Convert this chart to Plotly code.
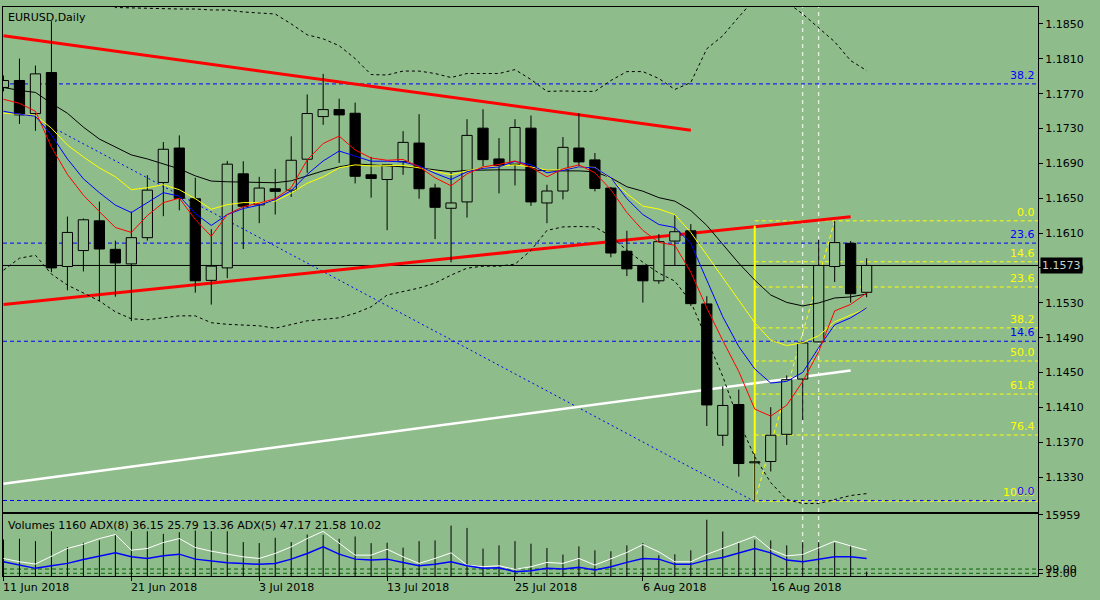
import plotly.graph_objects as go

# EURUSD daily bars, 11 Jun 2018 .. 24 Aug 2018 (bar index 0..54)
opens = [1.17771, 1.17851, 1.17472, 1.17942, 1.15717, 1.15900, 1.16241, 1.15914, 1.15747, 1.16048,
         1.16681, 1.17076, 1.16495, 1.15558, 1.15701, 1.16780, 1.16424, 1.16609, 1.16593, 1.16948,
         1.17437, 1.17517, 1.17475, 1.16769, 1.16715, 1.16920, 1.17133, 1.16617, 1.16385, 1.16458,
         1.17304, 1.16951, 1.16891, 1.17304, 1.16446, 1.16583, 1.17076, 1.16940, 1.16617, 1.15892,
         1.15729, 1.15553, 1.16009, 1.16127, 1.15288, 1.13781, 1.14134, 1.13465, 1.13480, 1.13792,
         1.14426, 1.14852, 1.15717, 1.15983, 1.15421]
highs = [1.17908, 1.18102, 1.18022, 1.18531, 1.16290, 1.16268, 1.16461, 1.16014, 1.16347, 1.16765,
         1.17145, 1.17221, 1.16735, 1.16146, 1.16928, 1.16925, 1.16746, 1.16837, 1.17210, 1.17691,
         1.17927, 1.17642, 1.17597, 1.16974, 1.16883, 1.17270, 1.17464, 1.16666, 1.16800, 1.17407,
         1.17521, 1.17190, 1.17407, 1.17449, 1.16655, 1.17202, 1.17475, 1.17019, 1.16630, 1.16127,
         1.15736, 1.16089, 1.16305, 1.16203, 1.15376, 1.14342, 1.14305, 1.13571, 1.14103, 1.14468,
         1.14840, 1.16025, 1.16241, 1.16009, 1.15812]
lows = [1.17726, 1.17353, 1.17273, 1.15652, 1.15444, 1.15660, 1.15319, 1.15371, 1.15091, 1.16014,
        1.16294, 1.16362, 1.15417, 1.15280, 1.15584, 1.15918, 1.16214, 1.16313, 1.16515, 1.16792,
        1.17342, 1.16905, 1.16670, 1.16507, 1.16134, 1.16769, 1.16495, 1.16032, 1.15766, 1.16279,
        1.16868, 1.16556, 1.16647, 1.16412, 1.16214, 1.16487, 1.16868, 1.16579, 1.15823, 1.15607,
        1.15303, 1.15519, 1.15732, 1.15265, 1.13887, 1.13659, 1.13306, 1.13025, 1.13366, 1.13670,
        1.13955, 1.14845, 1.15539, 1.15303, 1.15364]
closes = [1.17851, 1.17456, 1.17927, 1.15701, 1.16108, 1.16253, 1.15918, 1.15758, 1.16048, 1.16593,
          1.17062, 1.16499, 1.15553, 1.15721, 1.16891, 1.16408, 1.16617, 1.16579, 1.16936, 1.17472,
          1.17517, 1.17456, 1.16752, 1.16727, 1.16883, 1.17141, 1.16609, 1.16396, 1.16446, 1.17221,
          1.16943, 1.16875, 1.17312, 1.16458, 1.16583, 1.17084, 1.16917, 1.16613, 1.15872, 1.15690,
          1.15553, 1.16002, 1.16116, 1.15291, 1.14129, 1.14123, 1.13457, 1.13477, 1.13781, 1.14419,
          1.14840, 1.15729, 1.15991, 1.15405, 1.15729]

# moving averages
ma_red = [1.17635, 1.17589, 1.17498, 1.17088, 1.16774, 1.16535, 1.16347, 1.16165, 1.16108, 1.16302,
          1.16450, 1.16501, 1.16256, 1.16063, 1.16313, 1.16404, 1.16444, 1.16495, 1.16621, 1.16940,
          1.17128, 1.17213, 1.17054, 1.16962, 1.16936, 1.16945, 1.16860, 1.16735, 1.16643, 1.16780,
          1.16860, 1.16888, 1.16928, 1.16854, 1.16746, 1.16837, 1.16883, 1.16792, 1.16598, 1.16336,
          1.16131, 1.15994, 1.15960, 1.15652, 1.15242, 1.14867, 1.14513, 1.14081, 1.14001, 1.14126,
          1.14399, 1.14741, 1.15208, 1.15282, 1.15413]
ma_blue = [1.17498, 1.17464, 1.17441, 1.17224, 1.16951, 1.16723, 1.16564, 1.16421, 1.16336, 1.16450,
           1.16564, 1.16524, 1.16325, 1.16188, 1.16313, 1.16382, 1.16421, 1.16484, 1.16587, 1.16774,
           1.16928, 1.17042, 1.16985, 1.16925, 1.16925, 1.16917, 1.16871, 1.16786, 1.16715, 1.16803,
           1.16843, 1.16860, 1.16923, 1.16883, 1.16792, 1.16820, 1.16860, 1.16849, 1.16735, 1.16495,
           1.16313, 1.16199, 1.16165, 1.15983, 1.15561, 1.15140, 1.14798, 1.14542, 1.14380, 1.14399,
           1.14502, 1.14787, 1.15049, 1.15128, 1.15242]
ma_yellow = [1.17475, 1.17464, 1.17452, 1.17304, 1.17111, 1.16974, 1.16849, 1.16746, 1.16598, 1.16621,
             1.16655, 1.16598, 1.16495, 1.16374, 1.16427, 1.16450, 1.16450, 1.16467, 1.16558, 1.16672,
             1.16746, 1.16849, 1.16883, 1.16871, 1.16877, 1.16877, 1.16849, 1.16809, 1.16769, 1.16814,
             1.16849, 1.16866, 1.16883, 1.16860, 1.16822, 1.16826, 1.16860, 1.16854, 1.16723, 1.16552,
             1.16410, 1.16376, 1.16313, 1.16108, 1.15846, 1.15584, 1.15334, 1.15072, 1.14872, 1.14810,
             1.14844, 1.14923, 1.15083, 1.15163, 1.15237]
ma_black = [1.17771, 1.17737, 1.17714, 1.17589, 1.17475, 1.17316, 1.17179, 1.17088, 1.16997, 1.16951,
            1.16894, 1.16837, 1.16757, 1.16697, 1.16689, 1.16683, 1.16678, 1.16678, 1.16700, 1.16757,
            1.16814, 1.16860, 1.16894, 1.16883, 1.16871, 1.16860, 1.16849, 1.16826, 1.16803, 1.16820,
            1.16826, 1.16826, 1.16826, 1.16820, 1.16814, 1.16814, 1.16814, 1.16803, 1.16735, 1.16632,
            1.16581, 1.16507, 1.16467, 1.16359, 1.16188, 1.15971, 1.15755, 1.15561, 1.15390, 1.15305,
            1.15265, 1.15299, 1.15356, 1.15368, 1.15402]

# bands (dashed)
band_up = [1.1882, 1.1886, 1.1890, 1.1912, 1.1908, 1.1900, 1.1885, 1.18688, 1.18682, 1.18682,
           1.18677, 1.18671, 1.18671, 1.18660, 1.18660, 1.18637, 1.18625, 1.18614, 1.18500, 1.18375,
           1.18329, 1.18250, 1.18102, 1.17919, 1.17914, 1.17959, 1.17959, 1.17931, 1.17885, 1.17931,
           1.17931, 1.17931, 1.17976, 1.17862, 1.17726, 1.17731, 1.17726, 1.17726, 1.17851, 1.17953,
           1.17953, 1.17874, 1.17748, 1.17828, 1.18215, 1.18364, 1.18580, 1.18785, 1.18842, 1.18751,
           1.18614, 1.18455, 1.18295, 1.18079, 1.17965]
band_dn = [1.15675, 1.15812, 1.15846, 1.15630, 1.15504, 1.15413, 1.15322, 1.15197, 1.15117, 1.15106,
           1.15128, 1.15151, 1.15151, 1.15072, 1.15054, 1.15049, 1.15037, 1.15009, 1.15049, 1.15094,
           1.15111, 1.15128, 1.15180, 1.15254, 1.15390, 1.15430, 1.15470, 1.15527, 1.15618, 1.15698,
           1.15721, 1.15721, 1.15744, 1.15903, 1.16131, 1.16171, 1.16176, 1.16171, 1.16063, 1.15903,
           1.15766, 1.15641, 1.15550, 1.15311, 1.14889, 1.14456, 1.13944, 1.13534, 1.13238, 1.13044,
           1.12998, 1.12998, 1.13044, 1.13090, 1.13112]

volumes = [9500, 9700, 9090, 11660, 7540, 8670, 9270, 10730, 11660, 11660,
           10990, 11400, 11840, 11660, 11660, 8830, 8570, 9960, 8830, 10810,
           10730, 9700, 10300, 8570, 8670, 7390, 9090, 9270, 13130, 12530,
           7130, 7980, 9090, 8420, 7280, 5590, 7720, 6690, 6440, 7980,
           8570, 5410, 5660, 6690, 14670, 11580, 8570, 9450, 9270, 7980,
           8830, 8830, 8670, 7980, 1160]
adx_white = [28.5, 23.1, 19.4, 32.3, 44.7, 51.6, 60.8, 67.3, 41.9, 44.7,
             54.4, 60.8, 46.3, 40.3, 35.5, 31.1, 28.5, 36.6, 47.3, 60.8,
             72.6, 52.7, 33.9, 33.9, 43.5, 31.1, 20.5, 28.5, 37.6, 17.7,
             15.0, 16.6, 10.8, 15.0, 22.1, 20.5, 28.5, 17.7, 28.5, 38.2,
             51.1, 39.2, 23.1, 23.1, 35.0, 44.7, 53.7, 64.5, 43.1, 32.7,
             35.0, 46.3, 56.5, 48.9, 41.9]
adx_blue = [23.1, 17.7, 12.4, 16.6, 20.5, 26.9, 32.3, 37.6, 31.1, 28.5,
            32.7, 35.5, 27.4, 24.2, 21.5, 20.5, 18.9, 20.5, 27.4, 36.6,
            47.3, 35.5, 27.4, 25.8, 27.4, 22.1, 16.6, 18.9, 23.1, 16.6,
            12.4, 13.4, 6.9, 8.5, 12.4, 11.3, 14.0, 9.7, 15.0, 22.1,
            28.5, 27.4, 18.9, 18.9, 25.8, 30.2, 37.6, 44.7, 37.6, 25.8,
            23.1, 27.4, 31.1, 31.1, 28.5]
adx_levels = [11.3, 4.4]
adx_level_text = ["99.00", "15.00"]

date_ticks = [0, 8, 16, 24, 32, 40, 48]
date_labels = ["11 Jun 2018", "21 Jun 2018", "3 Jul 2018", "13 Jul 2018",
               "25 Jul 2018", "6 Aug 2018", "16 Aug 2018"]
price_ticks = [1.1330, 1.1370, 1.1410, 1.1450, 1.1490, 1.1530, 1.1570,
               1.1610, 1.1650, 1.1690, 1.1730, 1.1770, 1.1810, 1.1850]

# drawn objects: (x0, y0, x1, y1)
red_upper = (0, 1.18364, 43, 1.17281)
red_lower = (0, 1.15280, 53, 1.16287)
white_line = (0, 1.13226, 53, 1.14525)
blue_diag = (3, 1.17320, 47, 1.13020)
fib_diag = (47, 1.13025, 52, 1.16241)
yellow_vert = (47, 1.13025, 47, 1.16185)
white_vlines = [50, 51]

# fibonacci
fib_levels = [0.0, 14.6, 23.6, 38.2, 50.0, 61.8, 76.4, 100.0]
fib_hi, fib_lo = 1.16241, 1.13025
bfib_levels = [0.0, 14.6, 23.6, 38.2]
bfib_lo, bfib_hi = 1.13033, 1.25543

BG = "#8fbc8b"
FONT = "DejaVu Sans"
X0, X1 = -0.03, 64.72

n = len(opens)
idx = list(range(n))

fig = go.Figure()

# wicks (split so they don't cross the hollow bodies)
wx, wy = [], []
for i in idx:
    top = max(opens[i], closes[i])
    bot = min(opens[i], closes[i])
    wx += [i, i, None, i, i, None]
    wy += [highs[i], top, None, bot, lows[i], None]
fig.add_trace(go.Scatter(x=wx, y=wy, mode="lines", line=dict(color="black", width=1),
                         hoverinfo="skip", showlegend=False))

# bodies
fig.add_trace(go.Bar(
    x=idx,
    y=[abs(closes[i] - opens[i]) for i in idx],
    base=[min(opens[i], closes[i]) for i in idx],
    width=0.64,
    marker=dict(color=[BG if closes[i] >= opens[i] else "black" for i in idx],
                line=dict(color="black", width=1)),
    hoverinfo="skip", showlegend=False))

# indicators
for vals, col in [(ma_black, "black"), (ma_yellow, "#ffff00"), (ma_blue, "#0000ff"), (ma_red, "#ff0000")]:
    fig.add_trace(go.Scatter(x=idx, y=vals, mode="lines", line=dict(color=col, width=1),
                             hoverinfo="skip", showlegend=False))
for vals in [band_up, band_dn]:
    fig.add_trace(go.Scatter(x=idx, y=vals, mode="lines",
                             line=dict(color="black", width=1, dash="3px,3px"),
                             hoverinfo="skip", showlegend=False))

# volume panel
vx, vy = [], []
for i in idx:
    vx += [i, i, None]
    vy += [0, volumes[i], None]
fig.add_trace(go.Scatter(x=vx, y=vy, mode="lines", line=dict(color="black", width=1),
                         xaxis="x2", yaxis="y2", hoverinfo="skip", showlegend=False))
fig.add_trace(go.Scatter(x=idx, y=adx_white, mode="lines", line=dict(color="white", width=1),
                         xaxis="x2", yaxis="y3", hoverinfo="skip", showlegend=False))
fig.add_trace(go.Scatter(x=idx, y=adx_blue, mode="lines", line=dict(color="#0000ff", width=1.5),
                         xaxis="x2", yaxis="y3", hoverinfo="skip", showlegend=False))

shapes = []
DASH = "4px,3px"


def seg(p, color, width, dash="solid"):
    return dict(type="line", xref="x", yref="y", x0=p[0], y0=p[1], x1=p[2], y1=p[3],
                line=dict(color=color, width=width, dash=dash), layer="below")


# blue fibo levels (full width)
for lv in bfib_levels:
    py = bfib_lo + (bfib_hi - bfib_lo) * lv / 100
    shapes.append(seg((X0, py, X1, py), "#0000ff", 1, DASH))
# yellow fibo levels
for lv in fib_levels:
    py = fib_hi - (fib_hi - fib_lo) * lv / 100
    shapes.append(seg((fib_diag[0], py, X1, py), "#ffff00", 1, DASH))
# bid line
shapes.append(seg((X0, closes[-1], X1, closes[-1]), "black", 1))
shapes.append(seg(blue_diag, "#0000ff", 1, "2px,3px"))
shapes.append(seg(red_upper, "#ff0000", 3))
shapes.append(seg(red_lower, "#ff0000", 3))
shapes.append(seg(white_line, "white", 2.5))
shapes.append(seg(yellow_vert, "#ffff00", 2))
shapes.append(seg(fib_diag, "#ffff00", 1, DASH))
for xv in white_vlines:
    shapes.append(dict(type="line", xref="x", yref="paper", x0=xv, x1=xv, y0=0, y1=1,
                       line=dict(color="white", width=1, dash="4px,4px"), layer="below"))
for lv in adx_levels:
    shapes.append(dict(type="line", xref="x2", yref="y3", x0=X0, x1=X1, y0=lv, y1=lv,
                       line=dict(color="#006400", width=1, dash="4px,3px"), layer="below"))

ann = []
ann.append(dict(text="EURUSD,Daily", xref="paper", yref="paper", x=0, y=1, xanchor="left",
                yanchor="top", xshift=3, yshift=-2, showarrow=False,
                font=dict(family=FONT, size=11, color="black")))
ann.append(dict(text="Volumes %d ADX(8) 36.15 25.79 13.36 ADX(5) 47.17 21.58 10.02" % volumes[-1],
                xref="paper", yref="paper", x=0, y=0.089, xanchor="left", yanchor="middle",
                xshift=3, showarrow=False, font=dict(family=FONT, size=11, color="black")))
for lv in fib_levels:
    py = fib_hi - (fib_hi - fib_lo) * lv / 100
    ann.append(dict(text="%.1f" % lv, xref="paper", yref="y", x=1, y=py, xanchor="right",
                    yanchor="bottom", xshift=-1, showarrow=False,
                    font=dict(family=FONT, size=11, color="#ffff00")))
for lv in bfib_levels:
    py = bfib_lo + (bfib_hi - bfib_lo) * lv / 100
    ann.append(dict(text="%.1f" % lv, xref="paper", yref="y", x=1, y=py, xanchor="right",
                    yanchor="bottom", xshift=-1, showarrow=False,
                    font=dict(family=FONT, size=11, color="#0000ff")))
ann.append(dict(text="%.4f" % closes[-1], xref="paper", yref="y", x=1, y=closes[-1],
                xanchor="left", yanchor="middle", xshift=2, showarrow=False,
                bgcolor="black", borderpad=1,
                font=dict(family=FONT, size=11, color="#c8d4c8")))
for t, lab in zip(date_ticks, date_labels):
    ann.append(dict(text=lab, xref="x2", yref="paper", x=t, y=-0.0209, xanchor="left",
                    yanchor="middle", xshift=-2, showarrow=False,
                    font=dict(family=FONT, size=11, color="black")))

axis_common = dict(showgrid=False, zeroline=False, showline=True, mirror=True,
                   linecolor="black", linewidth=1)

fig.update_layout(
    width=1100, height=600,
    margin=dict(l=2, r=62, t=3, b=24, pad=0),
    paper_bgcolor=BG, plot_bgcolor=BG,
    barmode="overlay",
    showlegend=False,
    font=dict(family=FONT, size=11, color="black"),
    xaxis=dict(domain=[0, 1], range=[X0, X1], anchor="y", showticklabels=False,
               ticks="", **axis_common),
    yaxis=dict(domain=[0.1122, 1], range=[1.12899, 1.18694], side="right", anchor="x",
               tickvals=price_ticks, tickformat=".4f", ticks="outside", ticklen=4,
               tickcolor="black", tickfont=dict(family=FONT, size=11, color="black"),
               **axis_common),
    xaxis2=dict(domain=[0, 1], range=[X0, X1], anchor="y2", matches="x",
                tickvals=date_ticks, showticklabels=False, ticks="outside", ticklen=4,
                tickcolor="black", **axis_common),
    yaxis2=dict(domain=[0, 0.1094], range=[0, 16218], side="right", anchor="x2",
                tickvals=[15959], ticktext=["15959"], ticks="outside", ticklen=4,
                tickcolor="black", tickfont=dict(family=FONT, size=11, color="black"),
                **axis_common),
    yaxis3=dict(overlaying="y2", range=[0, 101.1], side="right", anchor="x2",
                tickvals=adx_levels, ticktext=adx_level_text, ticks="outside", ticklen=4,
                tickcolor="black", tickfont=dict(family=FONT, size=11, color="black"),
                showgrid=False, zeroline=False, showline=False),
    shapes=shapes,
    annotations=ann,
)

# page has a default 8px body margin; drop it so the chart sits flush like the terminal window
fig.write_html("out.html", config={"displayModeBar": False},
               post_script="document.body.style.margin='0';document.body.style.overflow='hidden';")
